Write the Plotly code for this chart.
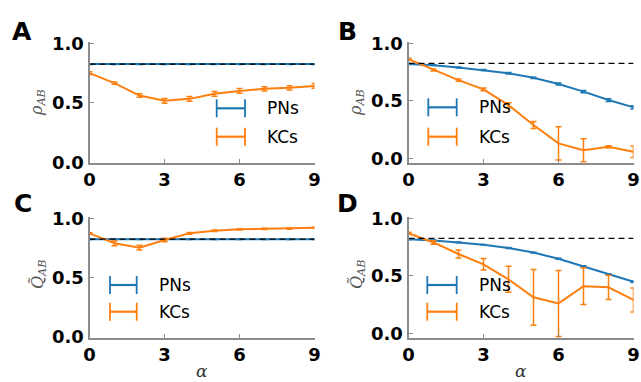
import plotly.graph_objects as go

# ---------------- data ----------------
alpha = [0, 1, 2, 3, 4, 5, 6, 7, 8, 9]
x_ticks = [0, 3, 6, 9]
y_ticks = [0.0, 0.5, 1.0]
y_tick_text = ["0.0", "0.5", "1.0"]
reference_level = [0.825, 0.825]
reference_x = [0, 9]

# Panel A: rho_AB vs alpha
a_pns = [0.825, 0.825, 0.825, 0.825, 0.825, 0.825, 0.825, 0.825, 0.825, 0.825]
a_pns_err = [0.003, 0.003, 0.003, 0.003, 0.003, 0.003, 0.003, 0.003, 0.003, 0.003]
a_kcs = [0.749, 0.665, 0.561, 0.517, 0.533, 0.575, 0.600, 0.617, 0.626, 0.642]
a_kcs_err = [0.012, 0.010, 0.015, 0.020, 0.020, 0.020, 0.020, 0.018, 0.018, 0.020]

# Panel B: rho_AB vs alpha
b_pns = [0.820, 0.810, 0.790, 0.768, 0.740, 0.700, 0.646, 0.580, 0.507, 0.443]
b_pns_err = [0.004, 0.004, 0.005, 0.005, 0.006, 0.006, 0.008, 0.010, 0.012, 0.015]
b_kcs = [0.863, 0.768, 0.680, 0.600, 0.463, 0.290, 0.130, 0.070, 0.100, 0.058]
b_kcs_err = [0.008, 0.008, 0.010, 0.012, 0.020, 0.030, 0.145, 0.100, 0.010, 0.050]

# Panel C: Q~_AB vs alpha
c_pns = [0.823, 0.823, 0.823, 0.823, 0.823, 0.823, 0.823, 0.823, 0.823, 0.823]
c_pns_err = [0.003, 0.003, 0.003, 0.003, 0.003, 0.003, 0.003, 0.003, 0.003, 0.003]
c_kcs = [0.873, 0.789, 0.752, 0.817, 0.873, 0.895, 0.907, 0.910, 0.913, 0.920]
c_kcs_err = [0.006, 0.020, 0.020, 0.015, 0.008, 0.006, 0.005, 0.005, 0.005, 0.005]

# Panel D: Q~_AB vs alpha
d_pns = [0.817, 0.808, 0.790, 0.770, 0.742, 0.702, 0.648, 0.582, 0.512, 0.449]
d_pns_err = [0.003, 0.003, 0.003, 0.003, 0.004, 0.004, 0.005, 0.005, 0.006, 0.006]
d_kcs = [0.870, 0.790, 0.690, 0.600, 0.470, 0.313, 0.260, 0.410, 0.400, 0.290]
d_kcs_err = [0.008, 0.015, 0.035, 0.050, 0.113, 0.243, 0.287, 0.160, 0.105, 0.105]

series_names = ["PNs", "KCs"]
panel_letters = ["A", "B", "C", "D"]
y_titles = ["<i>ρ</i><sub><i>AB</i></sub>", "<i>ρ</i><sub><i>AB</i></sub>",
            "<i>Q̃</i><sub><i>AB</i></sub>", "<i>Q̃</i><sub><i>AB</i></sub>"]
x_title = "<i>α</i>"

BLUE = "#1f77b4"
ORANGE = "#ff7f0e"
W, H = 641, 382


def px(x):
    return x / W


def py(y):
    return 1 - y / H


fig = go.Figure()

panels = [
    dict(pns=a_pns, pe=a_pns_err, kcs=a_kcs, ke=a_kcs_err,
         xd=(89.5, 314.5), yd=(41.7, 162.7), yr=[-0.003, 1.013]),
    dict(pns=b_pns, pe=b_pns_err, kcs=b_kcs, ke=b_kcs_err,
         xd=(408.5, 633.5), yd=(41.7, 162.7), yr=[-0.038, 1.014]),
    dict(pns=c_pns, pe=c_pns_err, kcs=c_kcs, ke=c_kcs_err,
         xd=(89.5, 314.5), yd=(216.7, 337.7), yr=[-0.008, 1.0135]),
    dict(pns=d_pns, pe=d_pns_err, kcs=d_kcs, ke=d_kcs_err,
         xd=(408.5, 633.5), yd=(216.7, 337.7), yr=[-0.038, 1.014]),
]

tick_font = dict(family="DejaVu Sans", size=18, color="black", weight="bold")

for i, p in enumerate(panels):
    n = "" if i == 0 else str(i + 1)
    xa, ya = "x" + n, "y" + n
    for vals, errs, col in [(p["pns"], p["pe"], BLUE), (p["kcs"], p["ke"], ORANGE)]:
        fig.add_trace(go.Scatter(
            x=alpha, y=vals, mode="lines", xaxis=xa, yaxis=ya,
            line=dict(color=col, width=2), showlegend=False,
            error_y=dict(type="data", array=errs, visible=True,
                         color=col, thickness=1.5, width=3),
        ))
    fig.add_trace(go.Scatter(
        x=reference_x, y=reference_level, mode="lines", xaxis=xa, yaxis=ya,
        line=dict(color="black", width=1.3, dash="6px,4px"), showlegend=False,
    ))
    axis_common = dict(showgrid=False, zeroline=False, showline=True,
                       linecolor="#8c8c8c", linewidth=2, ticks="inside",
                       ticklen=4, tickwidth=1, tickcolor="#8c8c8c",
                       tickfont=tick_font, automargin=False)
    fig.layout["xaxis" + n] = dict(
        axis_common, domain=[px(p["xd"][0]), px(p["xd"][1])], range=[0, 9],
        tickvals=x_ticks, anchor=ya)
    fig.layout["yaxis" + n] = dict(
        axis_common, domain=[py(p["yd"][1]), py(p["yd"][0])], range=p["yr"],
        tickvals=y_ticks, ticktext=y_tick_text, anchor=xa)

annotations = []
shapes = []

# panel letters
for letter, (lx, ly) in zip(panel_letters, [(22, 31), (347, 31), (23, 203), (347, 203)]):
    annotations.append(dict(x=px(lx), y=py(ly), xref="paper", yref="paper",
                            text="<b>%s</b>" % letter, showarrow=False,
                            font=dict(family="DejaVu Sans", size=25, color="black"),
                            xanchor="center", yanchor="middle"))

# y titles
for t, (tx, ty) in zip(y_titles, [(38, 103), (357, 103), (38, 275), (357, 275)]):
    annotations.append(dict(x=px(tx), y=py(ty), xref="paper", yref="paper",
                            text=t, textangle=-90, showarrow=False,
                            font=dict(family="DejaVu Serif", size=16, color="#555555"),
                            xanchor="center", yanchor="middle"))

# x titles
for tx in [202, 521]:
    annotations.append(dict(x=px(tx), y=py(371), xref="paper", yref="paper",
                            text=x_title, showarrow=False,
                            font=dict(family="DejaVu Serif", size=17, color="#333333"),
                            xanchor="center", yanchor="middle"))

# legends (error-bar style glyphs)
legend_pos = [
    (216.7, 245.0, 108.3, 136.7, 265.0),
    (428.3, 456.7, 107.3, 136.7, 476.7),
    (110.0, 136.7, 285.0, 311.7, 156.7),
    (427.3, 456.7, 285.0, 311.7, 476.7),
]
for (gx0, gx1, y1, y2, tx) in legend_pos:
    for name, gy, col in [(series_names[0], y1, BLUE), (series_names[1], y2, ORANGE)]:
        shapes.append(dict(type="line", xref="paper", yref="paper",
                           x0=px(gx0), x1=px(gx1), y0=py(gy), y1=py(gy),
                           line=dict(color=col, width=2.2)))
        for cx in (gx0, gx1):
            shapes.append(dict(type="line", xref="paper", yref="paper",
                               x0=px(cx), x1=px(cx), y0=py(gy - 9), y1=py(gy + 9),
                               line=dict(color=col, width=1.8)))
        annotations.append(dict(x=px(tx), y=py(gy), xref="paper", yref="paper",
                                text=name, showarrow=False,
                                font=dict(family="DejaVu Sans", size=17, color="black"),
                                xanchor="left", yanchor="middle"))

fig.update_layout(
    template="none",
    width=W, height=H, margin=dict(l=0, r=0, t=0, b=0, autoexpand=False),
    paper_bgcolor="white", plot_bgcolor="white",
    annotations=annotations, shapes=shapes, showlegend=False,
)

fig.write_html("out.html", config={"displayModeBar": False},
               post_script="document.body.style.margin='0';"
                           "document.body.style.overflow='hidden';")
